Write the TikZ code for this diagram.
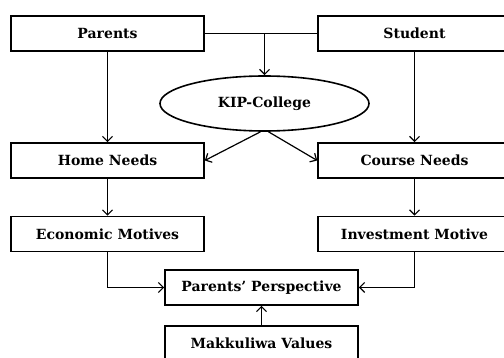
\documentclass[tikz,border=0pt]{standalone}
\usepackage{fontspec}
\setmainfont{DejaVu Serif}
\usetikzlibrary{shapes.geometric, arrows.meta}

\begin{document}
\begin{tikzpicture}[
    x=1pt, y=-1pt,
    every node/.style={font=\bfseries\fontsize{14}{16}\selectfont},
    box/.style={draw, rectangle, line width=1.6pt, minimum width=193pt, minimum height=35pt, inner sep=0pt},
    oval/.style={draw, ellipse, line width=1.6pt, minimum width=209pt, minimum height=55pt, inner sep=0pt},
    link/.style={->, >={Straight Barb[length=5pt, width=10pt]}, line width=1.2pt}
]
\useasboundingbox (0,0) rectangle (504,358);
\clip (0,0) rectangle (504,358);

\node[box] (parents) at (107.5,33.5) {Parents};
\node[box] (student) at (414.5,33.5) {Student};
\node[oval] (college) at (264.5,103.5) {KIP-College};
\node[box] (home) at (107.5,160.5) {Home Needs};
\node[box] (course) at (414.5,160.5) {Course Needs};
\node[box] (economic) at (107.5,234) {Economic Motives};
\node[box] (investment) at (414.5,234) {Investment Motive};
\node[box] (perspective) at (261.5,287.5) {Parents' Perspective};
\node[box] (values) at (261.5,343.5) {Makkuliwa Values};

% top join into the college
\draw[line width=1.2pt] (parents.east) -- (student.west);
\draw[link] (parents.east -| college.north) -- (college.north);

% needs
\draw[link] (parents) -- (home);
\draw[link] (student) -- (course);
\draw[link] ([xshift=-4pt]college.south) -- (home.east);
\draw[link] ([xshift=4pt]college.south) -- (course.west);

% motives
\draw[link] (home) -- (economic);
\draw[link] (course) -- (investment);

% perspective
\draw[link] (economic.south) |- (perspective.west);
\draw[link] (investment.south) |- (perspective.east);
\draw[link] (values) -- (perspective);
\end{tikzpicture}
\end{document}
